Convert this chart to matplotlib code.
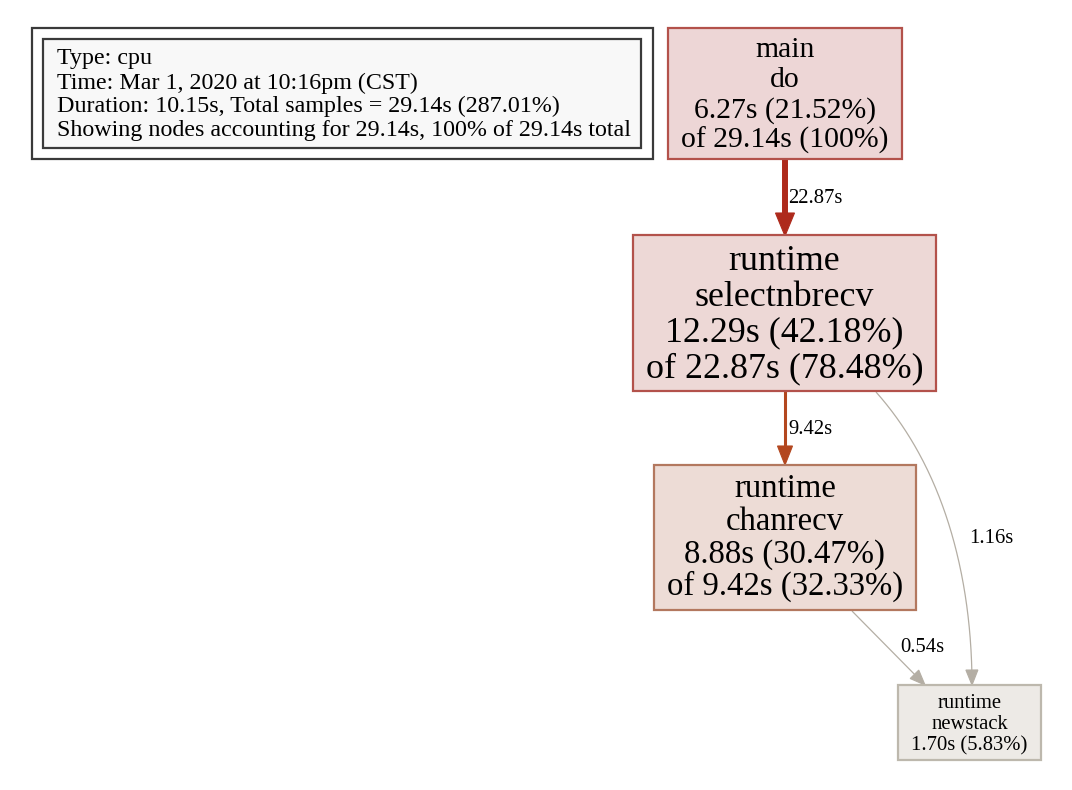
import matplotlib
matplotlib.use("Agg")
import matplotlib.pyplot as plt
from matplotlib.patches import Rectangle, Polygon
import numpy as np
from math import comb

plt.rcParams['font.family'] = ['Liberation Serif', 'DejaVu Serif']

# ---- data ----
legend_lines = [
    "Type: cpu",
    "Time: Mar 1, 2020 at 10:16pm (CST)",
    "Duration: 10.15s, Total samples = 29.14s (287.01%)",
    "Showing nodes accounting for 29.14s, 100% of 29.14s total",
]
node_pkg = ["main", "runtime", "runtime", "runtime"]
node_func = ["do", "selectnbrecv", "chanrecv", "newstack"]
node_flat = [6.27, 12.29, 8.88, 1.70]
node_flat_pct = ["21.52%", "42.18%", "30.47%", "5.83%"]
node_cum = [29.14, 22.87, 9.42, 1.70]
node_cum_pct = ["100%", "78.48%", "32.33%", "5.83%"]
edge_src = [0, 1, 1, 2]
edge_dst = [1, 2, 3, 3]
edge_w = [22.87, 9.42, 1.16, 0.54]

# ---- layout (pixels) ----
W, H = 1072, 790
fig = plt.figure(figsize=(W / 100, H / 100), dpi=100)
ax = fig.add_axes([0, 0, 1, 1])
ax.set_xlim(0, W)
ax.set_ylim(H, 0)
ax.axis('off')

# node boxes: x0, y0, x1, y1
boxes = [(668, 28, 902, 159), (633, 235, 936, 391), (654, 465, 916, 610), (898, 685, 1041, 760)]
fsizes = [21.4, 25.8, 23.6, 14.9]
baselines = [[57, 87, 118, 148], [270, 306, 341, 377], [497, 530, 563, 595], [708, 729, 750]]
fills = ['#edd6d6', '#edd8d6', '#eddcd6', '#edeae6']
edgecols = ['#b3524b', '#b3524b', '#b3785f', '#bdb8ad']

for i in range(4):
    x0, y0, x1, y1 = boxes[i]
    ax.add_patch(Rectangle((x0, y0), x1 - x0, y1 - y0, facecolor=fills[i],
                           edgecolor=edgecols[i], linewidth=1.6, zorder=2))
    if node_cum[i] == node_flat[i]:
        lines = [node_pkg[i], node_func[i], f"{node_flat[i]:.2f}s ({node_flat_pct[i]})"]
    else:
        lines = [node_pkg[i], node_func[i], f"{node_flat[i]:.2f}s ({node_flat_pct[i]})",
                 f"of {node_cum[i]:.2f}s ({node_cum_pct[i]})"]
    cx = (x0 + x1) / 2
    for ln, by in zip(lines, baselines[i]):
        ax.text(cx, by, ln, ha='center', va='baseline', fontsize=fsizes[i], color='black', zorder=3)

# legend
ax.add_patch(Rectangle((32, 28), 621, 131, facecolor='white', edgecolor='#3a3a3a', linewidth=1.6, zorder=1))
ax.add_patch(Rectangle((43, 39), 598, 109, facecolor='#f8f8f8', edgecolor='#3a3a3a', linewidth=1.6, zorder=1))
for ln, by in zip(legend_lines, [64, 89, 112, 136]):
    ax.text(57, by, ln, ha='left', va='baseline', fontsize=17.3, color='black', zorder=3)

# edges
edge_cols = ['#ae2a1c', '#b3471f', '#b4aea4', '#b4aea4']
edge_lw = [4.3, 2.2, 0.9, 0.9]
head_len = [23, 19, 15, 15]
head_hw = [9.5, 7.5, 6, 6]
edge_paths = [
    [(785, 159), (785, 236)],
    [(785, 391), (785, 465)],
    [(876, 392), (950, 475), (972, 590), (972, 685)],
    [(852, 611), (925, 685)],
]
label_pos = [(788, 203), (788, 434), (969, 543), (900, 652)]


def bez(pts, t):
    pts = np.array(pts, float)
    n = len(pts) - 1
    return sum(comb(n, k) * (1 - t) ** (n - k) * t ** k * pts[k] for k in range(n + 1))


for j in range(4):
    pts = edge_paths[j]
    tip = np.array(pts[-1], float)
    prev = bez(pts, 0.97)
    d = tip - prev
    d = d / np.hypot(*d)
    base = tip - d * head_len[j]
    ts = np.linspace(0, 1, 200)
    curve = np.array([bez(pts, t) for t in ts])
    dist = np.hypot(*(curve - tip).T)
    shaft = curve[dist >= head_len[j] - 1]
    ax.plot(shaft[:, 0], shaft[:, 1], color=edge_cols[j], lw=edge_lw[j],
            solid_capstyle='butt', zorder=1.5)
    perp = np.array([-d[1], d[0]])
    tri = [tip, base + perp * head_hw[j], base - perp * head_hw[j]]
    ax.add_patch(Polygon(tri, closed=True, facecolor=edge_cols[j], edgecolor=edge_cols[j],
                         linewidth=0.8, zorder=1.6))
    lx, ly = label_pos[j]
    ax.text(lx, ly, f"{edge_w[j]:.2f}s", ha='left', va='baseline', fontsize=14.9,
            color='black', zorder=3)

fig.savefig("out.png", dpi=100, facecolor='white')
